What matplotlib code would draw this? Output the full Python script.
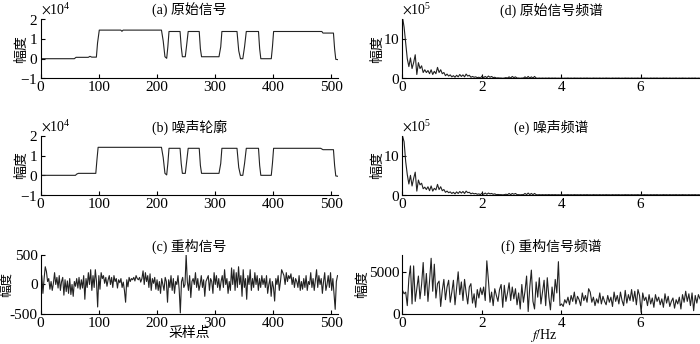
import numpy as np
import matplotlib
matplotlib.use('Agg')
import matplotlib.pyplot as plt

plt.rcParams['font.family'] = ['Liberation Serif', 'Noto Sans CJK SC']
plt.rcParams['mathtext.fontset'] = 'stix'
plt.rcParams['axes.unicode_minus'] = False
plt.rcParams['font.size'] = 10

# (a) 原始信号: 折点 (采样点, 幅度)
sig_x = [0, 58, 61, 82, 85, 88, 96, 98, 101, 138, 140, 142, 208, 211, 214, 217, 219, 221,
         240, 242, 244, 249, 251, 254, 273, 275, 277, 307, 310, 312, 338, 341, 344, 348, 351, 354,
         375, 377, 379, 397, 399, 401, 484, 486, 504, 506, 508, 512]
sig_y = [0, 0, 700, 700, 1200, 800, 800, 8000, 14500, 14500, 13900, 14500, 14500, 9000, 1000, 200, 6000, 13800,
         13800, 6000, 1000, 1000, 6000, 13800, 13800, 5000, 1000, 1000, 6000, 13800, 13800, 4000, 0, 0, 6000, 13800,
         13800, 5000, 0, 0, 6000, 13800, 13800, 13000, 13000, 5000, -300, -500]

# (b) 噪声轮廓
noise_x = [0, 60, 62, 65, 95, 97, 99, 208, 211, 214, 217, 219, 221,
           240, 242, 244, 249, 251, 254, 273, 275, 277, 307, 310, 312, 338, 341, 344, 348, 351, 354,
           375, 377, 379, 397, 399, 401, 482, 486, 504, 506, 508, 512]
noise_y = [0, 0, 600, 1000, 1000, 8000, 14200, 14200, 9000, 1000, 200, 6000, 13700,
           13700, 6000, 1000, 1000, 6000, 13700, 13700, 5000, 1000, 1000, 6000, 13700, 13700, 4000, 0, 0, 6000, 13700,
           13700, 5000, 0, 0, 6000, 13700, 13700, 13000, 13000, 5000, -300, -500]

# (c) 重构信号 (每两个采样点取一个值)
recon = [
    -50, 150, -150, 100, 300, 220, 50, 100, -80, 50, -100, 20, 200, 0, 120, -60,
    150, -100, 50, 120, -180, 80, -120, 60, -150, 100, -170, 0, -200, 50, -30, 100,
    -60, 120, -80, 80, -60, 150, -250, 100, -50, 200, 0, 250, -100, 150, -50, 250,
    50, -380, 150, -80, 200, 100, 150, 20, 120, -30, 80, 150, 0, 120, -50, 150,
    50, 100, -60, 80, 30, 100, -50, 40, -100, -300, 80, -40, 120, 50, 100, 80,
    120, 60, 150, 100, 80, 120, 40, 100, 230, 0, 200, 50, 150, -50, 180, -100,
    100, 20, 120, -80, 80, -100, 50, -150, 100, 0, -100, 120, 50, -300, 80, -50,
    150, -100, 100, -150, 50, 0, 150, -80, -480, 50, 120, -50, 0, 500, 50, -100,
    150, -220, 50, 100, 0, 200, -50, 100, -100, 0, 150, -50, 80, -200, 50, 100,
    150, -100, 100, 50, -150, 200, 0, 150, -50, 100, -100, 50, 150, -50, 250, 0,
    100, -150, 50, -100, 280, 0, 250, -100, 200, -50, 300, 0, 150, -200, 250, -50,
    100, -250, 150, 0, 250, -100, 100, -50, 200, 0, 150, -100, 100, -50, 150, 0,
    100, -50, 150, -150, 0, 100, -200, 50, -50, -280, 100, 0, 150, -100, 50, 250,
    200, 150, 0, 200, 50, 150, 100, 180, 0, 120, -50, 100, 50, -50, 150, -100,
    50, -80, 100, -50, 150, -100, 50, 0, 200, -50, 100, -100, 80, 250, -50, 150,
    0, 100, -150, 50, 200, -100, 0, 150, -50, 200, -100, 100, -150, -420, 50, 150,
]

# (d) 原始信号频谱 (x10^5), 0.04 Hz 间隔
spec_sig = [
    15.5, 13.0, 9.0, 5.0, 3.0, 5.2, 2.5, 4.0, 6.0, 1.0,
    4.0, 2.5, 3.2, 1.5, 2.2, 1.5, 2.0, 1.2, 2.2, 1.0,
    1.8, 1.2, 2.8, 1.5, 2.2, 1.2, 1.5, 0.7, 1.1, 0.6,
    0.9, 0.4, 0.7, 0.3, 0.8, 0.4, 1.0, 0.5, 0.9, 0.4,
    1.1, 0.6, 0.8, 0.3, 0.5, 0.3, 0.4, 0.2, 0.3, 0.1,
    0.6, 0.2, 0.5, 0.2, 0.6, 0.3, 0.5, 0.2, 0.3, 0.1,
    0.15, 0.1, 0.1, 0.05, 0.1, 0.2, 0.1, 0.4, 0.1, 0.5,
    0.2, 0.4, 0.1, 0.1, 0.05, 0.1, 0.1, 0.4, 0.1, 0.5,
    0.1, 0.4, 0.1, 0.5, 0.1, 0.05, 0.1, 0.05, 0.1, 0.05,
    0.1, 0.05, 0.12, 0.05, 0.1, 0.06, 0.1, 0.05, 0.08, 0.05,
    0.1, 0.04, 0.08, 0.06, 0.1, 0.05, 0.09, 0.04, 0.1, 0.06,
    0.08, 0.05, 0.1, 0.04, 0.09, 0.06, 0.1, 0.05, 0.08, 0.04,
    0.1, 0.06, 0.08, 0.05, 0.1, 0.04, 0.09, 0.05, 0.1, 0.06,
    0.08, 0.04, 0.1, 0.05, 0.09, 0.06, 0.1, 0.04, 0.08, 0.05,
    0.1, 0.06, 0.09, 0.04, 0.1, 0.05, 0.08, 0.06, 0.1, 0.04,
    0.09, 0.05, 0.1, 0.06, 0.08, 0.04, 0.1, 0.05, 0.09, 0.06,
    0.1, 0.04, 0.08, 0.05, 0.1, 0.06, 0.09, 0.04, 0.1, 0.05,
    0.08, 0.06, 0.1, 0.04, 0.09, 0.05, 0.1, 0.06, 0.08, 0.04,
    0.1, 0.05, 0.09, 0.06, 0.1, 0.04, 0.08, 0.05,
]

# (e) 噪声频谱 (x10^5)
spec_noise = [
    15.0, 13.5, 8.5, 5.2, 2.8, 5.0, 2.3, 4.2, 5.8, 1.0,
    3.8, 2.6, 3.0, 1.6, 2.0, 1.4, 2.1, 1.1, 2.3, 1.0,
    1.7, 1.3, 2.7, 1.4, 2.1, 1.1, 1.4, 0.7, 1.0, 0.6,
    0.8, 0.4, 0.7, 0.3, 0.8, 0.4, 0.9, 0.5, 0.9, 0.4,
    1.0, 0.6, 0.7, 0.3, 0.5, 0.3, 0.4, 0.2, 0.3, 0.1,
    0.5, 0.2, 0.5, 0.2, 0.5, 0.3, 0.4, 0.2, 0.3, 0.1,
    0.15, 0.1, 0.1, 0.05, 0.1, 0.2, 0.1, 0.4, 0.1, 0.4,
    0.2, 0.4, 0.1, 0.1, 0.05, 0.1, 0.1, 0.4, 0.1, 0.5,
    0.1, 0.4, 0.1, 0.4, 0.1, 0.05, 0.1, 0.05, 0.1, 0.05,
    0.1, 0.05, 0.12, 0.05, 0.1, 0.06, 0.1, 0.05, 0.08, 0.05,
    0.1, 0.04, 0.08, 0.06, 0.1, 0.05, 0.09, 0.04, 0.1, 0.06,
    0.08, 0.05, 0.1, 0.04, 0.09, 0.06, 0.1, 0.05, 0.08, 0.04,
    0.1, 0.06, 0.08, 0.05, 0.1, 0.04, 0.09, 0.05, 0.1, 0.06,
    0.08, 0.04, 0.1, 0.05, 0.09, 0.06, 0.1, 0.04, 0.08, 0.05,
    0.1, 0.06, 0.09, 0.04, 0.1, 0.05, 0.08, 0.06, 0.1, 0.04,
    0.09, 0.05, 0.1, 0.06, 0.08, 0.04, 0.1, 0.05, 0.09, 0.06,
    0.1, 0.04, 0.08, 0.05, 0.1, 0.06, 0.09, 0.04, 0.1, 0.05,
    0.08, 0.06, 0.1, 0.04, 0.09, 0.05, 0.1, 0.06, 0.08, 0.04,
    0.1, 0.05, 0.09, 0.06, 0.1, 0.04, 0.08, 0.05,
]

# (f) 重构信号频谱
spec_recon = [
    2800, 2400, 2600, 1000, 4200, 5700, 1200, 5700, 1500, 3000,
    4500, 1800, 3500, 6100, 2200, 4800, 1500, 3900, 6600, 2700,
    5900, 1900, 3600, 3900, 900, 2800, 4100, 1700, 3200, 4000,
    1400, 2600, 4000, 1100, 3100, 5000, 2300, 3800, 1600, 4100,
    2500, 1200, 3200, 3600, 1300, 2400, 800, 2900, 1900, 3100,
    2300, 3200, 1600, 6300, 4000, 1400, 2600, 1000, 3000, 2200,
    1500, 2900, 3500, 800, 3400, 1500, 2500, 3700, 1600, 3200,
    1800, 3000, 1100, 2500, 600, 3500, 1400, 2700, 4500, 300,
    3200, 5200, 1500, 600, 3800, 2000, 4300, 1200, 2600, 4000,
    1000, 4300, 2000, 500, 3200, 1500, 4100, 2500, 6200, 1000,
    1200, 900, 1700, 1300, 2000, 1100, 2200, 1500, 2600, 1200,
    2100, 1700, 1000, 2500, 1600, 2200, 1400, 3000, 2600, 1400,
    2000, 1000, 1800, 1300, 2500, 1200, 2100, 1500, 1100, 2200,
    1400, 2000, 900, 2600, 1500, 2200, 1200, 2600, 1600, 1000,
    2800, 1300, 2300, 1600, 2900, 1500, 2700, 1100, 2900, 2200,
    200, 2500, 1600, 2000, 1000, 2300, 1200, 1900, 800, 2300,
    1500, 2000, 1100, 1800, 800, 2400, 1300, 2100, 900, 1500,
    1900, 700, 1700, 1200, 2000, 600, 2300, 1400, 2700, 1500,
    2400, 1000, 2500, 400, 2200, 1300, 2300, 1800,
]

titles = ['(a) 原始信号', '(b) 噪声轮廓', '(c) 重构信号',
          '(d) 原始信号频谱', '(e) 噪声频谱', '(f) 重构信号频谱']
# ylabel 右边缘位置 (轴坐标) 和字号
ylab_x = [-0.043, -0.043, -0.093, -0.062, -0.062, -0.113]
ylab_fs = [10, 10, 9, 10, 10, 10]

fig = plt.figure(figsize=(7.0, 3.44), dpi=100)
lc = '#222222'
lw = 0.8

# 轴位置 [left, bottom, width, height]
left_col = 0.058
right_col = 0.575
w = 0.425
rows = [0.772, 0.433, 0.087]
h = 0.172

axes = []
for col in [left_col, right_col]:
    for r in rows:
        axes.append(fig.add_axes([col, r, w, h]))

def style(ax, fs):
    ax.spines['top'].set_visible(False)
    ax.spines['right'].set_visible(False)
    ax.tick_params(direction='in', length=3, width=0.8, labelsize=11, pad=2)
    ax.set_ylabel('幅度', fontsize=fs)

# (a)
ax = axes[0]
ax.plot(sig_x, sig_y, color=lc, lw=lw)
ax.set_xlim(0, 512)
ax.set_ylim(-1e4, 2e4)
ax.set_yticks([-1e4, 0, 1e4, 2e4])
ax.set_xticks([0, 100, 200, 300, 400, 500])
ax.ticklabel_format(axis='y', style='sci', scilimits=(4, 4), useMathText=True)

# (b)
ax = axes[1]
ax.plot(noise_x, noise_y, color=lc, lw=lw)
ax.set_xlim(0, 512)
ax.set_ylim(-1e4, 2e4)
ax.set_yticks([-1e4, 0, 1e4, 2e4])
ax.set_xticks([0, 100, 200, 300, 400, 500])
ax.ticklabel_format(axis='y', style='sci', scilimits=(4, 4), useMathText=True)

# (c)
ax = axes[2]
ax.plot(np.linspace(0, 511, len(recon)), recon, color=lc, lw=lw)
ax.set_xlim(0, 512)
ax.set_ylim(-500, 500)
ax.set_yticks([-500, 0, 500])
ax.set_xticks([0, 100, 200, 300, 400, 500])
ax.set_xlabel('采样点', fontsize=10, labelpad=-2)

# (d)
ax = axes[3]
ax.plot(np.linspace(0, 7.5, len(spec_sig)), np.array(spec_sig) * 1e5, color=lc, lw=lw)
ax.set_xlim(0, 7.5)
ax.set_ylim(0, 1.5e6)
ax.set_yticks([0, 1e6])
ax.set_xticks([0, 2, 4, 6])
ax.ticklabel_format(axis='y', style='sci', scilimits=(5, 5), useMathText=True)

# (e)
ax = axes[4]
ax.plot(np.linspace(0, 7.5, len(spec_noise)), np.array(spec_noise) * 1e5, color=lc, lw=lw)
ax.set_xlim(0, 7.5)
ax.set_ylim(0, 1.5e6)
ax.set_yticks([0, 1e6])
ax.set_xticks([0, 2, 4, 6])
ax.ticklabel_format(axis='y', style='sci', scilimits=(5, 5), useMathText=True)

# (f)
ax = axes[5]
ax.plot(np.linspace(0, 7.5, len(spec_recon)), spec_recon, color=lc, lw=lw)
ax.set_xlim(0, 7.5)
ax.set_ylim(0, 7000)
ax.set_yticks([0, 5000])
ax.set_xticks([0, 2, 4, 6])
ax.set_xlabel(r'$f$/Hz', fontsize=10)
ax.xaxis.set_label_coords(0.476, -0.215)

for ax, t, lx, fs in zip(axes, titles, ylab_x, ylab_fs):
    style(ax, fs)
    ax.yaxis.set_label_coords(lx, 0.5)
    ax.set_title(t, fontsize=10, pad=3)
    ax.yaxis.get_offset_text().set_fontsize(10)

fig.savefig('out.png', dpi=100)
